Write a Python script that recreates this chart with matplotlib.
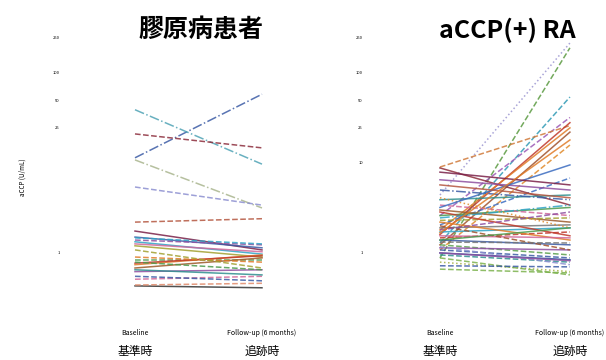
import numpy as np
import matplotlib
matplotlib.use("Agg")
import matplotlib.pyplot as plt
from matplotlib import transforms

plt.rcParams['font.family'] = ['Noto Sans CJK JP', 'DejaVu Sans']

# two time points per patient
timepoints = [0, 1]
tick_top = ["Baseline", "Follow-up (6 months)"]
tick_bottom = ["基準時", "追跡時"]
ylabel = "aCCP (U/mL)"
yticks_left = [1, 25, 50, 100, 250]
yticks_right = [1, 10, 25, 50, 100, 250]

# collagen disease patients: first / second measurement
ctd_first = [11.4, 39, 21, 10.8, 5.4, 2.2, 1.75, 1.5, 1.33, 1.39, 1.2, 1.26, 0.84,
             0.74, 0.68, 0.77, 0.62, 0.51, 0.65, 0.55, 0.43, 0.9, 0.79, 0.44, 1.08, 1.47]
ctd_second = [58, 9.7, 14.7, 3.16, 3.4, 2.4, 1.08, 1.14, 0.97, 1.23, 0.9, 1.03, 0.84,
              0.95, 0.88, 0.93, 0.65, 0.55, 0.57, 0.49, 0.41, 0.79, 0.65, 0.46, 0.68, 1.26]

# aCCP positive RA patients: first / second measurement
ra_first = [4.4, 0.88, 1.29, 2.6, 9.0, 1.6, 1.8, 1.23, 1.08, 2.05, 8.8, 6.5, 3.9, 5.0,
            2.6, 3.4, 3.0, 2.3, 1.9, 1.71, 1.47, 2.2, 1.39, 1.23, 1.14, 1.08, 0.95, 0.79,
            0.88, 1.0, 1.55, 2.0, 1.32, 2.85, 4.1, 2.45, 1.8, 3.2, 5.7, 7.9, 1.39, 1.17, 1.67,
            0.72, 0.66, 1.0]
ra_second = [215, 190, 54, 32, 26, 28, 24.5, 22, 15.8, 6.8, 3.4, 5.0, 4.4, 3.9,
             3.2, 2.6, 2.2, 2.45, 2.05, 1.9, 1.71, 1.39, 1.23, 0.95, 1.08, 0.88, 0.79, 0.62,
             0.57, 0.84, 1.47, 1.08, 1.29, 1.55, 1.9, 3.4, 2.85, 9.5, 4.1, 5.7, 1.9, 0.74, 18,
             0.7, 0.6, 0.82]

ctd_colors = ['#3b5ba5', '#4fa3b5', '#8c2d3c', '#a9b58e', '#8c8fd0', '#b4563f', '#7a2048',
              '#3b5ba5', '#2fa4c6', '#8e4fa0', '#a3a030', '#d0689a', '#4c9a4c', '#e07b28',
              '#9c5a2a', '#c0392b', '#8e4fa0', '#d0689a', '#2f8f8f', '#3b5ba5', '#333333',
              '#e07b28', '#4c9a4c', '#e08a6a', '#a3a030', '#2fa4c6']
ctd_styles = ['-.', '-.', '--', '-.', '--', '--', '-', '-', '-', '--', '-', '-', '--',
              '-', '-', '-', '-', '--', '-', '--', '-', '--', '--', '--', '--', '--']

ra_colors = ['#9a94d0', '#5a9a40', '#2f9ab5', '#9b59b6', '#d07a3a', '#c0392b', '#e07b28',
             '#a0522d', '#e08a2a', '#3b6cc0', '#8c2d3c', '#8e4fa0', '#2f8f8f', '#3b5ba5',
             '#4c9a4c', '#d0689a', '#9c5a2a', '#a3a030', '#777777', '#2fa4c6', '#c0392b',
             '#e07b28', '#3b5ba5', '#5aa04c', '#8e4fa0', '#3b5ba5', '#2f8f8f', '#a3b040',
             '#7bb24c', '#2b4c9a', '#d0689a', '#a0522d', '#777777', '#c0392b', '#e08a2a',
             '#2fa4c6', '#8e4fa0', '#3b6cc0', '#b4563f', '#7a2048', '#4c9a4c', '#8c8fd0', '#e07b28',
             '#3b5ba5', '#7bb24c', '#8e4fa0']
ra_styles = [':', '--', '--', '--', '--', '-', '-', '-', '--', '--', '-', '-', '-', '-.',
             '-', '--', '-', '--', '-', '-', '--', '-', '-', '--', '-', '--', '--', ':',
             '--', '-', '-', '--', '--', '-', ':', '-.', '--', '-', '-', '-', '-', '--', '-',
             '--', '--', '-']

fig = plt.figure(figsize=(6.06, 3.6), dpi=100)
ax1 = fig.add_axes([0.1075, 0.1667, 0.3772, 0.75])
ax2 = fig.add_axes([0.608, 0.1667, 0.3861, 0.75])

panels = [
    (ax1, ctd_first, ctd_second, ctd_colors, ctd_styles, "膠原病患者", yticks_left),
    (ax2, ra_first, ra_second, ra_colors, ra_styles, "aCCP(+) RA", yticks_right),
]

for ax, first, second, colors, styles, title, yt in panels:
    for a, b, c, s in zip(first, second, colors, styles):
        ax.plot(timepoints, [a, b], color=c, linestyle=s, linewidth=1.1, alpha=0.85)
    ax.set_yscale('log')
    ax.set_ylim(0.3, 300)
    ax.set_xlim(-0.55, 1.25)
    ax.set_yticks(yt)
    ax.set_yticklabels([str(v) for v in yt], fontsize=3)
    ax.yaxis.set_minor_locator(matplotlib.ticker.NullLocator())
    ax.set_xticks(timepoints)
    ax.set_xticklabels(tick_top, fontsize=5)
    ax.tick_params(axis='both', length=0)
    ax.tick_params(axis='x', pad=21)
    ax.tick_params(axis='y', pad=4)
    for sp in ax.spines.values():
        sp.set_visible(False)
    trans = transforms.blended_transform_factory(ax.transData, ax.transAxes)
    for x, lab in zip(timepoints, tick_bottom):
        ax.text(x, -0.19, lab, transform=trans, ha='center', va='center', fontsize=8.5)
    ax.text(0.52, 1.0, title, transform=trans, ha='center', va='center',
            fontsize=18, fontweight='bold')

ax1.set_ylabel(ylabel, fontsize=4.5)
ax1.yaxis.set_label_coords(-0.17, 0.456)

fig.savefig("out.png", dpi=100)
